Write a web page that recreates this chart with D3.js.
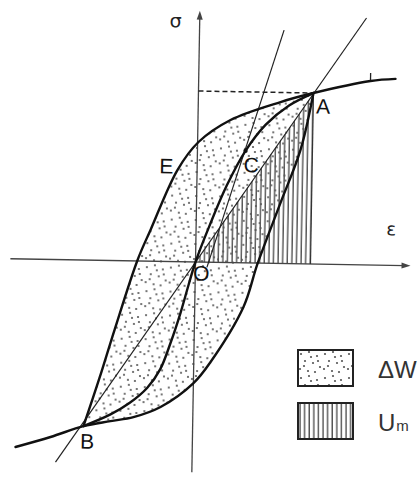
<!DOCTYPE html>
<html>
<head>
<meta charset="utf-8">
<script src="https://cdn.jsdelivr.net/npm/d3@7"></script>
<style>
  body { margin: 0; background: #fff; }
  svg { display: block; }
</style>
</head>
<body>
<svg id="chart" width="420" height="479"></svg>
<script>
// Hysteresis loop in normalised strain/stress units (peak A = (1, 1)).
// Upper branch of the loop, from B to A
const upperBranch = [[-0.949, -0.971], [-0.817, -0.688], [-0.694, -0.406], [-0.504, 0.006],
  [-0.396, 0.183], [-0.171, 0.536], [0.008, 0.702], [0.283, 0.834], [0.715, 0.944], [1, 1]];
// envelope continuing past A
const upperTail = [[1.494, 1.076], [1.711, 1.091]];
// Lower branch of the loop, from B to A
const lowerBranch = [[-0.949, -0.971], [-0.715, -0.939], [-0.516, -0.913], [-0.282, -0.851],
  [0.001, -0.708], [0.146, -0.583], [0.424, -0.258], [0.539, -0.005], [0.730, 0.354],
  [0.896, 0.666], [1, 1]];
// envelope continuing past B
const lowerTail = [[-1.537, -1.100], [-1.234, -1.038]];
// Backbone curve B - O - C - A
const backbone = [[-0.949, -0.971], [-0.716, -0.900], [-0.55, -0.83], [-0.40, -0.74],
  [-0.29, -0.63], [-0.205, -0.476], [-0.123, -0.300], [-0.057, -0.135], [0, 0],
  [0.12, 0.22], [0.26, 0.45], [0.418, 0.655], [0.59, 0.81], [0.79, 0.925], [1, 1]];
// Secant through B, O, A and the steep line through C
const secantLine = [[-1.187, -1.184], [1.45, 1.444]];
const steepLine = [[0.10, -0.03], [0.735, 1.365]];
// Named points
const pointA = [1, 1];
const pointB = [-0.949, -0.971];
const pointC = [0.418, 0.655];
const pointO = [0, 0];
// Small tick on the envelope past A
const tickEps = [1.494];
// Axis extents
const epsExtent = [-1.61, 1.87];
const sigExtent = [-1.23, 1.47];
// Annotation letters: label, anchor point, pixel offset
const letters = [
  { t: "A", p: pointA, dx: 10, dy: 13 },
  { t: "B", p: pointB, dx: 4, dy: 15 },
  { t: "C", p: pointC, dx: 6, dy: 14 },
  { t: "O", p: pointO, dx: 6, dy: 11 },
  { t: "E", p: [-0.171, 0.536], dx: -11, dy: -4 }
];
const legendItems = [{ key: "dots", label: "ΔW" }, { key: "hatch", label: "U", sub: "m" }];

const svg = d3.select("#chart");
const cx = 195.5, cy = 262;
const x = d3.scaleLinear().domain([0, 1]).range([cx, cx + 115]);
const y = d3.scaleLinear().domain([0, 1]).range([cy, cy - 171]);

svg.append("rect").attr("width", 420).attr("height", 479).attr("fill", "#fff");

// Fill patterns
const defs = svg.append("defs");
const dots = defs.append("pattern").attr("id", "dots")
  .attr("patternUnits", "userSpaceOnUse").attr("width", 24).attr("height", 24);
[[3, 4], [11, 2], [19, 6], [7, 11], [15, 13], [22, 17], [2, 19], [10, 21], [17, 22], [6, 16], [13, 7], [20, 11]]
  .forEach(([a, b]) => dots.append("circle").attr("cx", a).attr("cy", b).attr("r", 1.1).attr("fill", "#555"));
const hatch = defs.append("pattern").attr("id", "hatch")
  .attr("patternUnits", "userSpaceOnUse").attr("width", 4.6).attr("height", 10);
hatch.append("line").attr("x1", 2).attr("x2", 2).attr("y1", 0).attr("y2", 10)
  .attr("stroke", "#222").attr("stroke-width", 1.1);

const g = svg.append("g").attr("transform", `rotate(1, ${cx}, ${cy})`);

const curve = d3.line().x(d => x(d[0])).y(d => y(d[1])).curve(d3.curveCatmullRom.alpha(0.5));
const straight = d3.line().x(d => x(d[0])).y(d => y(d[1]));

// Um: triangle under the secant up to A
g.append("path")
  .attr("d", straight([pointO, pointA, [pointA[0], 0]]) + "Z")
  .attr("fill", "url(#hatch)");

// ΔW: area inside the loop
g.append("path")
  .attr("d", curve(upperBranch) + "L" + curve(lowerBranch.slice().reverse()).slice(1) + "Z")
  .attr("fill", "url(#dots)");

// Axes
const axisColor = "#444";
g.append("line").attr("x1", x(epsExtent[0])).attr("x2", x(epsExtent[1]) - 6)
  .attr("y1", y(0)).attr("y2", y(0)).attr("stroke", axisColor).attr("stroke-width", 1.3);
g.append("line").attr("x1", x(0)).attr("x2", x(0))
  .attr("y1", y(sigExtent[0])).attr("y2", y(sigExtent[1]) + 6).attr("stroke", axisColor).attr("stroke-width", 1.3);
g.append("path")
  .attr("d", `M${x(epsExtent[1])},${y(0)} l-9,-3 l0,6 Z`).attr("fill", axisColor);
g.append("path")
  .attr("d", `M${x(0)},${y(sigExtent[1])} l-3,9 l6,0 Z`).attr("fill", axisColor);

// Dashed level of A and drop line to the strain axis
g.append("line").attr("x1", x(0)).attr("x2", x(pointA[0])).attr("y1", y(pointA[1])).attr("y2", y(pointA[1]))
  .attr("stroke", "#222").attr("stroke-width", 1.5).attr("stroke-dasharray", "5,3");
g.append("line").attr("x1", x(pointA[0])).attr("x2", x(pointA[0])).attr("y1", y(pointA[1])).attr("y2", y(0))
  .attr("stroke", "#333").attr("stroke-width", 1.2);

// Thin straight lines
[secantLine, steepLine].forEach(l => g.append("path").attr("d", straight(l))
  .attr("fill", "none").attr("stroke", "#222").attr("stroke-width", 1.2));

// Thick curves
const thick = { fill: "none", stroke: "#111", "stroke-width": 2.4, "stroke-linecap": "round" };
[upperBranch.concat(upperTail), lowerTail.concat(lowerBranch), backbone].forEach(pts => {
  const p = g.append("path").attr("d", curve(pts));
  Object.entries(thick).forEach(([k, v]) => p.attr(k, v));
});

// Tick on the envelope past A
tickEps.forEach(e => {
  const s = upperTail.find(d => d[0] === e)[1];
  g.append("line").attr("x1", x(e)).attr("x2", x(e)).attr("y1", y(s) - 1).attr("y2", y(s) - 8)
    .attr("stroke", "#222").attr("stroke-width", 1.3);
});

// Point C
g.append("circle").attr("cx", x(pointC[0])).attr("cy", y(pointC[1])).attr("r", 2.2).attr("fill", "#111");

// Letters
letters.forEach(l => {
  g.append("text").attr("x", x(l.p[0]) + l.dx).attr("y", y(l.p[1]) + l.dy)
    .attr("text-anchor", "middle").attr("dominant-baseline", "central")
    .attr("font-family", "'Liberation Sans Narrow', 'Liberation Sans', Arial, sans-serif")
    .attr("font-size", 21).attr("fill", "#111").text(l.t);
});

// Axis names
g.append("text").attr("x", x(0) - 24).attr("y", y(sigExtent[1]) + 17)
  .attr("text-anchor", "middle").attr("font-family", "'DejaVu Sans', sans-serif")
  .attr("font-size", 19).attr("fill", "#222").text("σ");
g.append("text").attr("x", x(epsExtent[1]) - 20).attr("y", y(0) - 30)
  .attr("text-anchor", "middle").attr("font-family", "'DejaVu Sans', sans-serif")
  .attr("font-size", 18).attr("fill", "#222").text("ε");

// Legend
const lg = svg.append("g").attr("transform", "translate(298,350)");
legendItems.forEach((it, i) => {
  const row = lg.append("g").attr("transform", `translate(0, ${i * 53})`);
  row.append("rect").attr("x", 0).attr("y", 0).attr("width", 55).attr("height", 36)
    .attr("fill", `url(#${it.key})`).attr("stroke", "#222").attr("stroke-width", 2);
  const t = row.append("text").attr("x", 80).attr("y", 28)
    .attr("font-family", "'Liberation Sans', Arial, sans-serif").attr("font-size", 24).attr("fill", "#333");
  t.append("tspan").text(it.label);
  if (it.sub) t.append("tspan").attr("font-size", 15).attr("dx", 1).text(it.sub);
});
</script>
</body>
</html>
